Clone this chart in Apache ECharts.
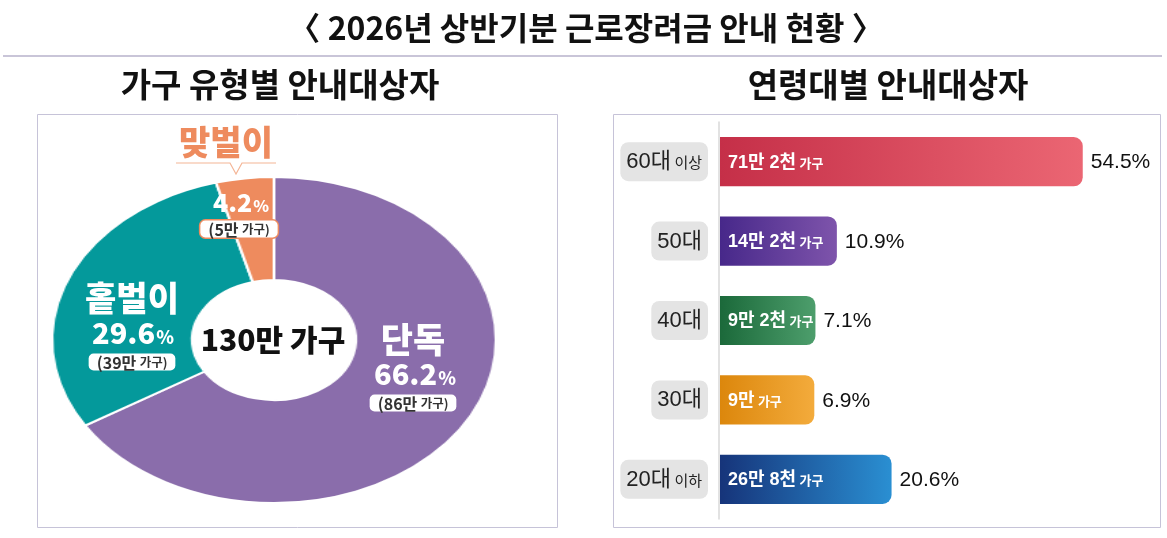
<!DOCTYPE html>
<html><head><meta charset="utf-8">
<script src="https://cdn.jsdelivr.net/npm/echarts@6/dist/echarts.min.js"></script>
<style>
html,body{margin:0;padding:0;background:#fff;}
#wrap{position:relative;width:1167px;height:538px;overflow:hidden;background:#fff;}
#pie{position:absolute;left:104px;top:170px;width:340px;height:340px;transform:scaleX(1.362);transform-origin:50% 50%;z-index:1;}
#main{position:absolute;left:0;top:0;width:1167px;height:538px;z-index:2;}
</style></head>
<body><div id="wrap"><div id="pie"></div><div id="main"></div></div>
<script>
// ---------- data ----------
const titleText = '〈 2026년 상반기분 근로장려금 안내 현황 〉';
const leftTitle = '가구 유형별 안내대상자';
const rightTitle = '연령대별 안내대상자';
const typeNames = ['단독', '홑벌이', '맞벌이'];
const typeShares = [66.2, 29.6, 4.2];
const typeHouseholds = ['86만', '39만', '5만'];
const totalLabel = '130만 가구';
const ageGroups = ['60대 이상', '50대', '40대', '30대', '20대 이하'];
const ageShares = [54.5, 10.9, 7.1, 6.9, 20.6];
const ageHouseholds = ['71만 2천', '14만 2천', '9만 2천', '9만', '26만 8천'];
const unitWord = '가구';

// ---------- styles ----------
const KR = "'Noto Sans CJK KR', sans-serif";
const NARROW = "'Liberation Sans Narrow', 'Liberation Sans', 'Noto Sans CJK KR', sans-serif";
const typeColors = ['#8a6dab', '#04999b', '#ee8b5e'];
const barColors = [['#c52f48', '#eb6673'], ['#47288a', '#7e54ab'], ['#1b693a', '#4d9e6c'], ['#dc870c', '#f3ab3c'], ['#16347a', '#2a8fd2']];

// ---------- pie (ellipse via CSS scale) ----------
const pie = echarts.init(document.getElementById('pie'), null, {renderer: 'canvas'});
pie.setOption({
  animation: false,
  series: [{
    type: 'pie', silent: true, startAngle: 90, clockwise: true,
    center: ['50%', '50%'], radius: [60, 163],
    label: {show: false}, labelLine: {show: false},
    itemStyle: {borderColor: '#ffffff', borderWidth: 2},
    data: typeNames.map((n, i) => ({name: n, value: typeShares[i], itemStyle: {color: typeColors[i]}}))
  }]
});

// ---------- main overlay ----------
const main = echarts.init(document.getElementById('main'), null, {renderer: 'canvas'});

const CENTER = {align: 'center', verticalAlign: 'middle', textAlign: 'center', textVerticalAlign: 'middle'};
function txt(x, y, text, fill, font) {
  return {type: 'text', x: x, y: y, z: 10, style: Object.assign({text: text, fill: fill, font: font}, CENTER)};
}
function pctText(x, y, i, big, small) {
  return {type: 'text', x: x, y: y, z: 10, style: Object.assign({
    text: '{n|' + typeShares[i] + '}{p|%}',
    rich: {
      n: {fontFamily: KR, fontWeight: 900, fontSize: big, fill: '#fff', color: '#fff', verticalAlign: 'bottom'},
      p: {fontFamily: KR, fontWeight: 900, fontSize: small, fill: '#fff', color: '#fff', verticalAlign: 'bottom', padding: [0, 0, 1, 1]}
    }
  }, CENTER)};
}
function hhBox(x, y, i) {
  return {type: 'text', x: x, y: y, z: 10, style: Object.assign({
    text: '{a|(' + typeHouseholds[i] + '} {b|' + unitWord + ')}',
    backgroundColor: '#ffffff', borderColor: typeColors[i], borderWidth: 1.5, borderRadius: 5, padding: [1, 8, 0, 8],
    rich: {
      a: {fontFamily: KR, fontWeight: 'bold', fontSize: 16, fill: '#333', color: '#333'},
      b: {fontFamily: KR, fontWeight: 'bold', fontSize: 12.5, fill: '#333', color: '#333'}
    }
  }, CENTER)};
}
function pieLabels() {
  const out = [];
  // 맞벌이 (index 2) above the ring with callout
  out.push(txt(226, 142, typeNames[2], typeColors[2], '900 34px ' + KR));
  out.push({type: 'polyline', z: 10, shape: {points: [[176, 163], [230, 163], [236, 174], [242, 163], [276, 163]]},
    style: {stroke: '#f4b596', lineWidth: 1.2, fill: null}});
  out.push(pctText(241, 202, 2, 25, 16));
  out.push(hhBox(239, 229, 2));
  // 홑벌이 (index 1)
  out.push(txt(132, 298, typeNames[1], '#fff', '900 34px ' + KR));
  out.push(pctText(133, 333, 1, 29, 18));
  out.push(hhBox(132, 362, 1));
  // 단독 (index 0)
  out.push(txt(413, 340, typeNames[0], '#fff', '900 35px ' + KR));
  out.push(pctText(415, 374, 0, 29, 18));
  out.push(hhBox(413, 403, 0));
  // center total
  out.push(txt(273, 340, totalLabel, '#111', '900 30px ' + KR));
  return out;
}

const graphics = [
  txt(586, 28, titleText, '#111', 'bold 32px ' + KR),
  {type: 'line', shape: {x1: 3, y1: 56, x2: 1162, y2: 56}, style: {stroke: '#b7b2cb', lineWidth: 1.5}},
  txt(280, 84, leftTitle, '#111', 'bold 33px ' + KR),
  txt(888, 84, rightTitle, '#111', 'bold 33px ' + KR),
  {type: 'rect', shape: {x: 37.5, y: 114.5, width: 520, height: 413}, style: {stroke: '#c6c3d8', lineWidth: 1, fill: null}},
  {type: 'rect', shape: {x: 613.5, y: 114.5, width: 547, height: 413}, style: {stroke: '#c6c3d8', lineWidth: 1, fill: null}}
].concat(pieLabels());

main.setOption({
  animation: false,
  backgroundColor: 'transparent',
  graphic: graphics,
  grid: {left: 719, right: 19.4, top: 122, bottom: 19, containLabel: false, outerBoundsMode: 'none'},
  xAxis: {type: 'value', min: -10, max: 66, show: false},
  yAxis: {
    type: 'category', inverse: true, data: ageGroups,
    axisTick: {show: false},
    axisLine: {show: true, onZero: false, lineStyle: {color: '#d9d9d9', width: 1.5}},
    splitLine: {show: false},
    axisLabel: {
      margin: 11,
      backgroundColor: '#e4e4e4', borderRadius: 8, padding: [9, 6, 8, 6],
      formatter: function (v) {
        const parts = v.split(' ');
        return '{a|' + parts[0] + '}' + (parts[1] ? ' {b|' + parts[1] + '}' : '');
      },
      rich: {
        a: {fontFamily: NARROW, fontSize: 22, color: '#222'},
        b: {fontFamily: KR, fontSize: 15, color: '#222'}
      }
    }
  },
  series: [{
    type: 'custom',
    coordinateSystem: 'cartesian2d',
    silent: true,
    encode: {x: 0, y: 1},
    data: ageShares.map((v, i) => [v, i]),
    renderItem: function (params, api) {
      const i = params.dataIndex;
      const p = api.coord([api.value(0), api.value(1)]);
      const x0 = params.coordSys.x;
      const h = api.size([0, 1])[1] * 0.62;
      const c = barColors[i];
      return {
        type: 'group',
        children: [
          {type: 'rect', shape: {x: x0 + 1, y: p[1] - h / 2, width: p[0] - x0 - 1, height: h, r: [0, 9, 9, 0]},
            style: {fill: new echarts.graphic.LinearGradient(0, 0, 1, 0, [{offset: 0, color: c[0]}, {offset: 1, color: c[1]}])}},
          {type: 'text', style: {
            text: '{a|' + ageHouseholds[i] + '} {b|' + unitWord + '}',
            x: x0 + 9, y: p[1] + 1, align: 'left', verticalAlign: 'middle', textAlign: 'left', textVerticalAlign: 'middle',
            rich: {
              a: {fontFamily: NARROW, fontWeight: 'bold', fontSize: 18, fill: '#fff', color: '#fff'},
              b: {fontFamily: KR, fontWeight: 'bold', fontSize: 13, fill: '#fff', color: '#fff'}
            }
          }},
          {type: 'text', style: {
            text: ageShares[i].toFixed(1) + '%',
            x: p[0] + 8, y: p[1] + 1, align: 'left', verticalAlign: 'middle', textAlign: 'left', textVerticalAlign: 'middle',
            font: '21px ' + NARROW, fill: '#111'
          }}
        ]
      };
    }
  }]
});
</script>
</body></html>
